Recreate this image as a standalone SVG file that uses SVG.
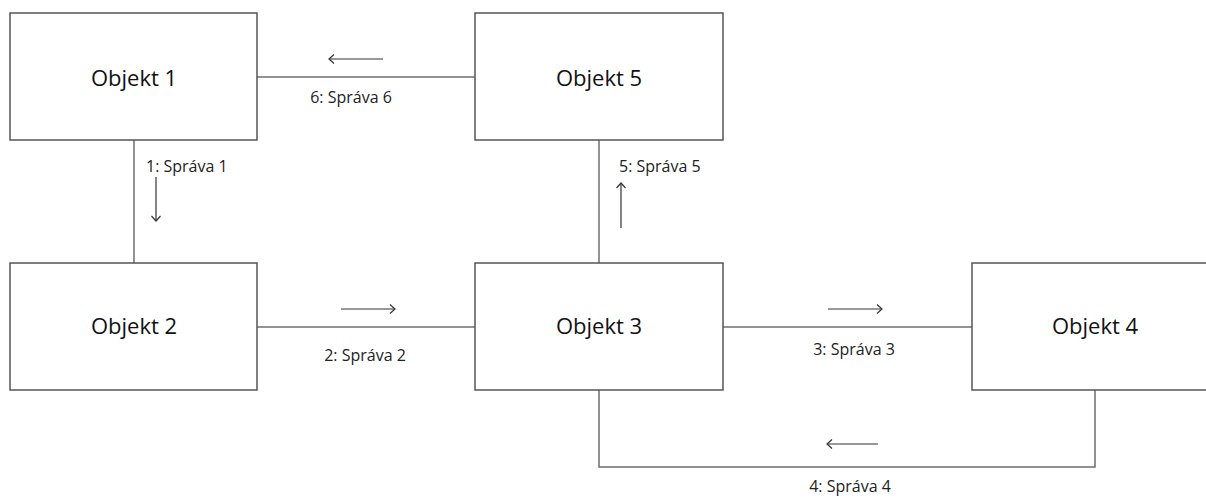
<svg xmlns="http://www.w3.org/2000/svg" width="1206" height="498" viewBox="0 0 1206 498">
  <style>
    .box { fill: #ffffff; stroke: #555555; stroke-width: 1.5; }
    .name { font-family: "Open Sans", "Liberation Sans", sans-serif; font-size: 22px; fill: #111111; text-anchor: middle; }
    .link { fill: none; stroke: #6e6e6e; stroke-width: 1.5; }
    .msg { fill: none; stroke: #333333; stroke-width: 1.2; marker-end: url(#open); }
    .lbl { font-family: "Open Sans", "Liberation Sans", sans-serif; font-size: 16px; fill: #222222; }
  </style>
  <defs>
    <marker id="open" markerUnits="userSpaceOnUse" markerWidth="14" markerHeight="14" refX="8" refY="6" orient="auto" viewBox="0 0 14 14">
      <path d="M3,1.5 L8,6 L3,10.5" fill="none" stroke="#333333" stroke-width="1.2"/>
    </marker>
  </defs>
  <rect width="1206" height="498" fill="#ffffff"/>

  <!-- connectors -->
  <g id="connectors">
    <line class="link" x1="257" y1="77" x2="475" y2="77"/>
    <line class="link" x1="134" y1="140" x2="134" y2="263"/>
    <line class="link" x1="257" y1="327" x2="475" y2="327"/>
    <line class="link" x1="599" y1="140" x2="599" y2="263"/>
    <line class="link" x1="723" y1="327" x2="972" y2="327"/>
    <polyline class="link" points="599,390 599,467 1095,467 1095,390"/>

    <!-- message direction arrows -->
    <line class="msg" x1="383" y1="59" x2="329" y2="59"/>
    <line class="msg" x1="156" y1="177" x2="156" y2="221"/>
    <line class="msg" x1="621" y1="228" x2="621" y2="183"/>
    <line class="msg" x1="341" y1="309" x2="395" y2="309"/>
    <line class="msg" x1="828" y1="309" x2="882" y2="309"/>
    <line class="msg" x1="878" y1="444" x2="827" y2="444"/>

    <!-- message labels -->
    <text class="lbl" x="351" y="103" text-anchor="middle">6: Správa 6</text>
    <text class="lbl" x="146" y="172">1: Správa 1</text>
    <text class="lbl" x="619" y="172">5: Správa 5</text>
    <text class="lbl" x="365" y="361" text-anchor="middle">2: Správa 2</text>
    <text class="lbl" x="854" y="355" text-anchor="middle">3: Správa 3</text>
    <text class="lbl" x="850" y="492" text-anchor="middle">4: Správa 4</text>
  </g>

  <g id="objekt1">
    <rect class="box" x="10" y="13" width="247" height="127"/>
    <text class="name" x="134" y="86">Objekt 1</text>
  </g>
  <g id="objekt5">
    <rect class="box" x="475" y="13" width="248" height="127"/>
    <text class="name" x="599" y="86">Objekt 5</text>
  </g>
  <g id="objekt2">
    <rect class="box" x="10" y="263" width="247" height="127"/>
    <text class="name" x="134" y="334">Objekt 2</text>
  </g>
  <g id="objekt3">
    <rect class="box" x="475" y="263" width="248" height="127"/>
    <text class="name" x="599" y="334">Objekt 3</text>
  </g>
  <g id="objekt4">
    <rect class="box" x="972" y="263" width="250" height="127"/>
    <text class="name" x="1095" y="334">Objekt 4</text>
  </g>
</svg>
